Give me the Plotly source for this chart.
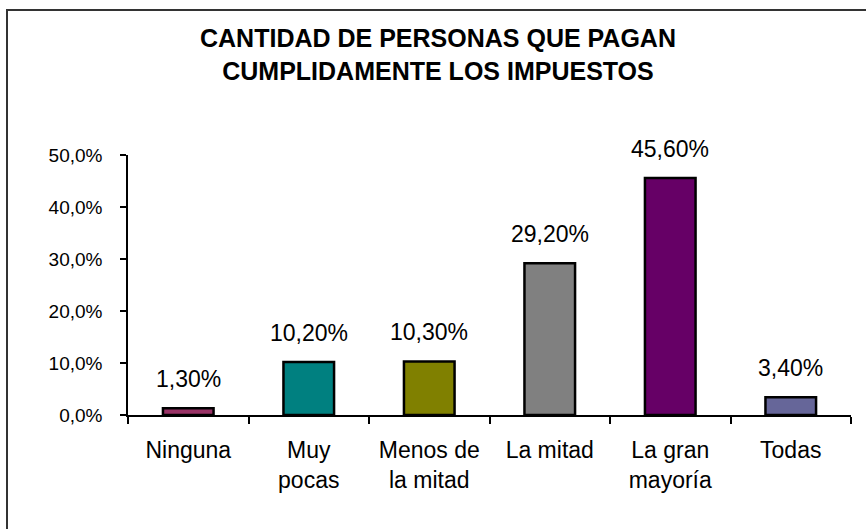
import plotly.graph_objects as go

categories = ["Ninguna", "Muy pocas", "Menos de la mitad", "La mitad", "La gran mayoría", "Todas"]
tick_labels = ["Ninguna", "Muy<br>pocas", "Menos de<br>la mitad", "La mitad", "La gran<br>mayoría", "Todas"]
values = [0.013, 0.102, 0.103, 0.292, 0.456, 0.034]
colors = ["#993366", "#008080", "#808000", "#808080", "#660066", "#666699"]
y_ticks = [0.0, 0.1, 0.2, 0.3, 0.4, 0.5]

W, H = 866, 529
L, R, T, B = 128, 15, 155, 114
pw, ph = W - L - R, H - T - B
FONT = "Arial, Liberation Sans"

fig = go.Figure()
fig.add_trace(go.Bar(
    x=categories, y=values,
    marker=dict(color=colors, line=dict(color="black", width=2.5)),
    width=0.42,
    hoverinfo="skip",
))

for c, v in zip(categories, values):
    fig.add_annotation(
        x=c, y=v, text=f"{v*100:.2f}%".replace(".", ","),
        showarrow=False, yanchor="bottom", yshift=14,
        font=dict(family=FONT, size=23, color="black"),
    )

# outer border
fig.add_shape(
    type="rect", xref="paper", yref="paper",
    x0=(7 - L) / pw, x1=(W + 20 - L) / pw,
    y0=-(B + 20) / ph, y1=(H - B - 10) / ph,
    line=dict(color="#333333", width=2), fillcolor="rgba(0,0,0,0)", layer="below",
)

fig.update_layout(
    width=W, height=H,
    margin=dict(l=L, r=R, t=T, b=B, pad=0),
    paper_bgcolor="white", plot_bgcolor="white",
    separators=",.",
    showlegend=False,
    title=dict(
        text="CANTIDAD DE PERSONAS QUE PAGAN<br>CUMPLIDAMENTE LOS IMPUESTOS",
        x=438 / W, xanchor="center", xref="container",
        y=1 - 47 / H, yanchor="top", yref="container",
        font=dict(family=FONT, size=25, color="black", weight="bold"),
    ),
    font=dict(family=FONT, size=20, color="black"),
    xaxis=dict(
        range=[-0.5, 5.5],
        tickmode="array", tickvals=categories, ticktext=tick_labels,
        tickson="boundaries", ticks="outside", ticklen=7, tickwidth=1.5, tickcolor="black",
        showline=True, linecolor="black", linewidth=1.5,
        showgrid=False, zeroline=False,
        ticklabelstandoff=14,
        tickfont=dict(size=23),
    ),
    yaxis=dict(
        range=[0, 0.5],
        tickmode="array", tickvals=y_ticks, tickformat=".1%",
        ticks="outside", ticklen=6, tickwidth=1.5, tickcolor="black",
        showline=True, linecolor="black", linewidth=1.5,
        showgrid=False, zeroline=False,
        ticklabelstandoff=14,
        tickfont=dict(size=19),
    ),
)

fig.write_html(
    "out.html",
    config={"displayModeBar": False},
    post_script="document.body.style.margin='0';document.body.style.overflow='hidden';",
)
